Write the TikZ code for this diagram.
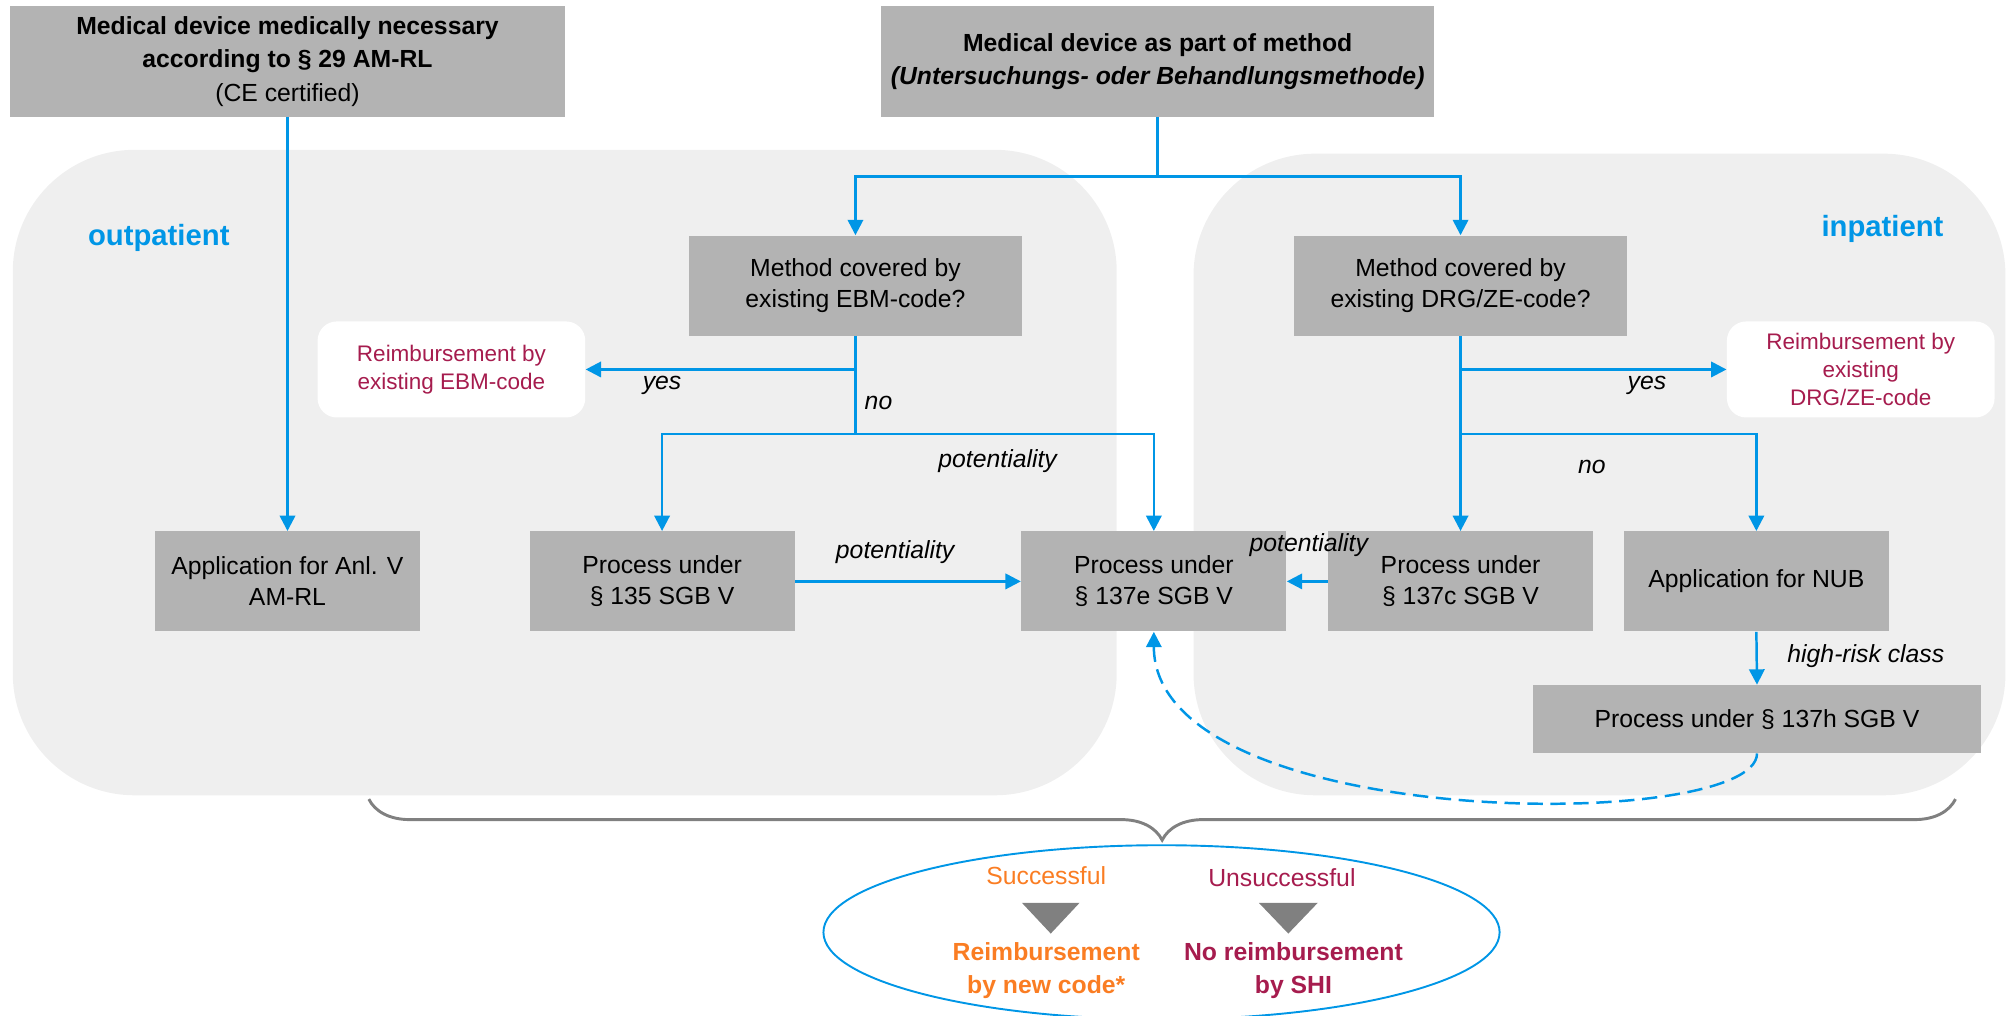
\documentclass[tikz,border=0pt]{standalone}
\usepackage{fontspec}
\setmainfont{Liberation Sans}
\usetikzlibrary{arrows.meta,shapes.geometric,decorations.pathreplacing}
\definecolor{boxgray}{RGB}{179,179,179}
\definecolor{panelgray}{RGB}{239,239,239}
\definecolor{flowblue}{RGB}{0,150,230}
\definecolor{wine}{RGB}{166,28,78}
\definecolor{tangerine}{RGB}{250,125,35}
\definecolor{tipgray}{RGB}{128,128,128}
\begin{document}
\begin{tikzpicture}[x=0.2mm,y=0.2mm]
\tikzstyle{every node}+=[inner sep=0pt, font=\fontsize{11}{13.7}\selectfont]
\tikzstyle{gbox}=[fill=boxgray, align=center, minimum width=41.4mm, minimum height=15.6mm]
\tikzstyle{wbox}=[fill=white, rounded corners=3mm, align=center, text=wine, minimum width=41.8mm, minimum height=15mm, font=\fontsize{10}{12.4}\selectfont]
\tikzstyle{flow}=[flowblue, line width=1.1pt, -{Triangle[length=2.4mm,width=2.4mm]}]
\tikzstyle{lbl}=[font=\fontsize{11}{13.7}\selectfont\itshape]
\tikzstyle{panel}=[fill=panelgray, rounded corners=19mm]
\useasboundingbox (0,0) rectangle (1568,-793);
\fill [panel] (10,-117) rectangle (872,-621);
\fill [panel] (932,-120) rectangle (1566,-621);
\node [text=flowblue, font=\fontsize{13}{15}\selectfont\bfseries] (outlbl) at (124,-186) {outpatient};
\node [text=flowblue, font=\fontsize{13}{15}\selectfont\bfseries] (inlbl) at (1470,-179) {inpatient};
\node [gbox, minimum width=86.6mm, minimum height=17.2mm, font=\fontsize{11}{14.8}\selectfont] (mdneed) at (224.5,-48) {\textbf{Medical device medically necessary}\\\textbf{according to § 29 AM-RL}\\(CE certified)};
\node [gbox, minimum width=86.4mm, minimum height=17.2mm, font=\fontsize{11}{14.8}\selectfont\bfseries] (mdmethod) at (904,-48) {Medical device as part of method\\\textit{(Untersuchungs- oder Behandlungsmethode)}};
\node [gbox, minimum width=52mm] (ebm) at (668,-223) {Method covered by\\existing EBM-code?};
\node [gbox, minimum width=52mm] (drg) at (1140.5,-223) {Method covered by\\existing DRG/ZE-code?};
\node [wbox] (reimE) at (352.5,-288.5) {Reimbursement by\\existing EBM-code};
\node [wbox] (reimD) at (1453,-288.5) {Reimbursement by\\existing\\DRG/ZE-code};
\node [gbox] (anl) at (224.5,-454) {Application for Anl. V\\AM-RL};
\node [gbox] (p135) at (517,-454) {Process under\\§ 135 SGB V};
\node [gbox] (p137e) at (901,-454) {Process under\\§ 137e SGB V};
\node [gbox] (p137c) at (1140.5,-454) {Process under\\§ 137c SGB V};
\node [gbox] (nub) at (1371.5,-454) {Application for NUB};
\node [gbox, minimum width=70mm, minimum height=10.6mm] (p137h) at (1372,-561.5) {Process under § 137h SGB V};
\coordinate (split) at (904,-138);
\coordinate (forkE) at (668,-339);
\coordinate (forkD) at (1140.5,-339);
\draw [flow] (mdneed.south) -- (anl.north);
\draw [flow, -] (mdmethod.south) -- (split);
\draw [flow] (split) -| (ebm.north);
\draw [flow] (split) -| (drg.north);
\draw [flow, -] (ebm.south) -- (forkE);
\draw [flow] (ebm.south |- reimE.east) -- (reimE.east);
\draw [flow] (forkE) -| (p135.north);
\draw [flow] (forkE) -| (p137e.north);
\draw [flow] (drg.south) -- (p137c.north);
\draw [flow] (drg.south |- reimD.west) -- (reimD.west);
\draw [flow] (forkD) -| (nub.north);
\draw [flow] (p135.east) -- (p137e.west);
\draw [flow] (p137c.west) -- (p137e.east);
\draw [flow] (nub.south) -- (p137h.north);
\draw [flow, dash pattern=on 6.8pt off 3.4pt] (p137h.south) .. controls +(0,-62) and +(0,-157) .. (p137e.south);
\node [lbl] (yesE) at (517,-301) {yes};
\node [lbl] (noE) at (686,-315) {no};
\node [lbl] (potA) at (779,-360) {potentiality};
\node [lbl] (potB) at (699,-431) {potentiality};
\node [lbl] (potC) at (1022,-426) {potentiality};
\node [lbl] (yesD) at (1286,-301) {yes};
\node [lbl] (noD) at (1243,-365) {no};
\node [lbl] (hirisk) at (1457,-512) {high-risk class};
\draw [tipgray, line width=1.3pt, decorate, decoration={brace, amplitude=6.4mm}] (1527,-624) -- (288,-624);
\node [ellipse, draw=flowblue, line width=0.85pt, minimum width=105.6mm, minimum height=27.2mm] (outcome) at (907,-728) {};
\node [text=tangerine] (succ) at (817,-684) {Successful};
\node [text=wine] (unsucc) at (1001,-685) {Unsuccessful};
\fill [tipgray] (798,-705) -- (843,-705) -- (820.5,-729) -- cycle;
\fill [tipgray] (983,-705) -- (1029,-705) -- (1006,-729) -- cycle;
\node [text=tangerine, align=center, font=\fontsize{11}{14.5}\selectfont\bfseries] (newcode) at (817,-758) {Reimbursement\\by new code*};
\node [text=wine, align=center, font=\fontsize{11}{14.5}\selectfont\bfseries] (noshi) at (1010,-758) {No reimbursement\\by SHI};
\end{tikzpicture}
\end{document}
